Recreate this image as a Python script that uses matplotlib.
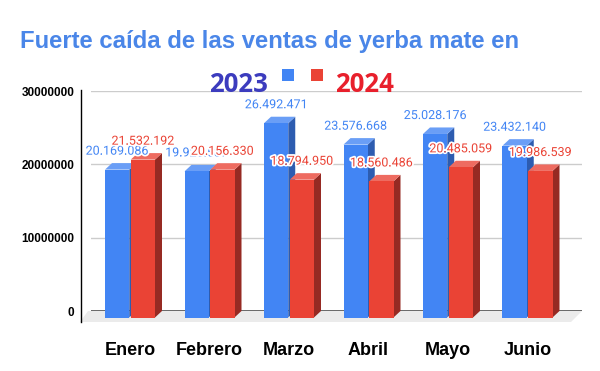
# -*- coding: utf-8 -*-
import numpy as np
import matplotlib
matplotlib.use('Agg')
import matplotlib.pyplot as plt
from matplotlib.patches import Polygon, Rectangle
from matplotlib.lines import Line2D
import matplotlib.patheffects as pe

# Datos
meses = ['Enero', 'Febrero', 'Marzo', 'Abril', 'Mayo', 'Junio']
ventas_2023 = [20169086, 19925587, 26492471, 23576668, 25028176, 23432140]
ventas_2024 = [21532192, 20156330, 18794950, 18560486, 20485059, 19986539]

azul = '#4285f4'
azul_top = '#6a9ef6'
azul_lado = '#2d5cb0'
rojo = '#ea4335'
rojo_top = '#ee6b60'
rojo_lado = '#962a23'

fig = plt.figure(figsize=(6, 3.71), dpi=100)
W, H = 600, 371
# eje = plano de fondo
L_px, R_px = 91, 582
ax = fig.add_axes([L_px / W, (H - 311) / H, (R_px - L_px) / W, 220 / H])

pitch = 79.5          # px por categoría
x0 = -(137 - L_px) / pitch
x1 = x0 + (R_px - L_px) / pitch
ax.set_xlim(x0, x1)
ax.set_ylim(0, 30000000)
px_por_val = 220 / 30000000

dx = 7 / pitch
dy = 6.5 / px_por_val
w = 24.25 / pitch
gap = 1.5 / pitch


def px2x(px):
    return x0 + (px - L_px) / pitch


# piso gris
piso = Polygon([(px2x(88), 0), (px2x(582), 0), (px2x(571), -11 / px_por_val),
                (px2x(80), -11 / px_por_val)], closed=True, facecolor='#ebebeb',
               edgecolor='none', clip_on=False, zorder=0)
ax.add_patch(piso)

ax.set_yticks([0, 10000000, 20000000, 30000000])
ax.set_yticklabels(['0', '10000000', '20000000', '30000000'],
                   fontfamily='Liberation Sans', fontweight='bold', fontsize=8.5)
ax.tick_params(axis='y', length=0, pad=12)
ax.set_xticks([])
for s in ax.spines.values():
    s.set_visible(False)
ax.grid(axis='y', color='#cccccc', lw=1)
ax.set_axisbelow(True)
ax.axhline(0, color='#333333', lw=1.2, zorder=0.5)


def barra(xl, v, c, ct, cl, z):
    frente = Rectangle((xl - dx, -dy), w, v, facecolor=c, edgecolor='none',
                       clip_on=False, zorder=z)
    top = Polygon([(xl - dx, v - dy), (xl - dx + w, v - dy), (xl + w, v), (xl, v)],
                  closed=True, facecolor=ct, edgecolor='none', clip_on=False, zorder=z)
    lado = Polygon([(xl - dx + w, -dy), (xl + w, 0), (xl + w, v), (xl - dx + w, v - dy)],
                   closed=True, facecolor=cl, edgecolor='none', clip_on=False, zorder=z)
    ax.add_patch(lado)
    ax.add_patch(top)
    ax.add_patch(frente)


def fmt(v):
    return f'{v:,}'.replace(',', '.')


halo = [pe.withStroke(linewidth=2.5, foreground='white')]
for i in range(len(meses)):
    xb = i - 25 / pitch
    xr = i + gap / 2
    barra(xb, ventas_2023[i], azul, azul_top, azul_lado, 2 + 2 * i)
    barra(xr, ventas_2024[i], rojo, rojo_top, rojo_lado, 3 + 2 * i)

for i in range(len(meses)):
    xb = i - 25 / pitch
    ax.annotate(fmt(ventas_2023[i]), (xb - dx + w / 2, ventas_2023[i]), xytext=(0, 8.6),
                textcoords='offset points', ha='center', va='center', color=azul,
                fontfamily='Roboto', fontsize=9, zorder=30, path_effects=halo,
                annotation_clip=False)
for i in range(len(meses)):
    xr = i + gap / 2
    ax.annotate(fmt(ventas_2024[i]), (xr - dx + w / 2, ventas_2024[i]), xytext=(0, 8.6),
                textcoords='offset points', ha='center', va='center', color=rojo,
                fontfamily='Roboto', fontsize=9, zorder=31, path_effects=halo,
                annotation_clip=False)
    ax.text(i - dx, -5.4e6, meses[i], ha='center', va='center', fontsize=13,
            fontfamily='Liberation Sans', fontweight='bold', color='black')

# eje izquierdo
fig.add_artist(Line2D([80.7 / W, 80.7 / W], [(H - 322) / H, (H - 90) / H],
                      color='black', lw=1))

# titulo
fig.text(270 / W, (H - 48) / H, 'Fuerte caída de las ventas de yerba mate en',
         ha='center', va='baseline', fontsize=17.2, fontweight='bold',
         fontfamily='Liberation Sans', color='#4a86e8')
fig.text(209 / W, (H - 92) / H, '2023', ha='left', va='baseline', fontsize=18.5,
         fontweight='bold', fontfamily='Open Sans', color='#3c3cbe')
fig.text(335 / W, (H - 92) / H, '2024', ha='left', va='baseline', fontsize=18.5,
         fontweight='bold', fontfamily='Open Sans', color='#e8202c')
fig.add_artist(Rectangle((282 / W, (H - 81) / H), 11.5 / W, 12 / H, facecolor=azul,
                         edgecolor='none', transform=fig.transFigure))
fig.add_artist(Rectangle((311 / W, (H - 81) / H), 11.5 / W, 12 / H, facecolor=rojo,
                         edgecolor='none', transform=fig.transFigure))

fig.savefig('out.png', dpi=100, facecolor='white')
